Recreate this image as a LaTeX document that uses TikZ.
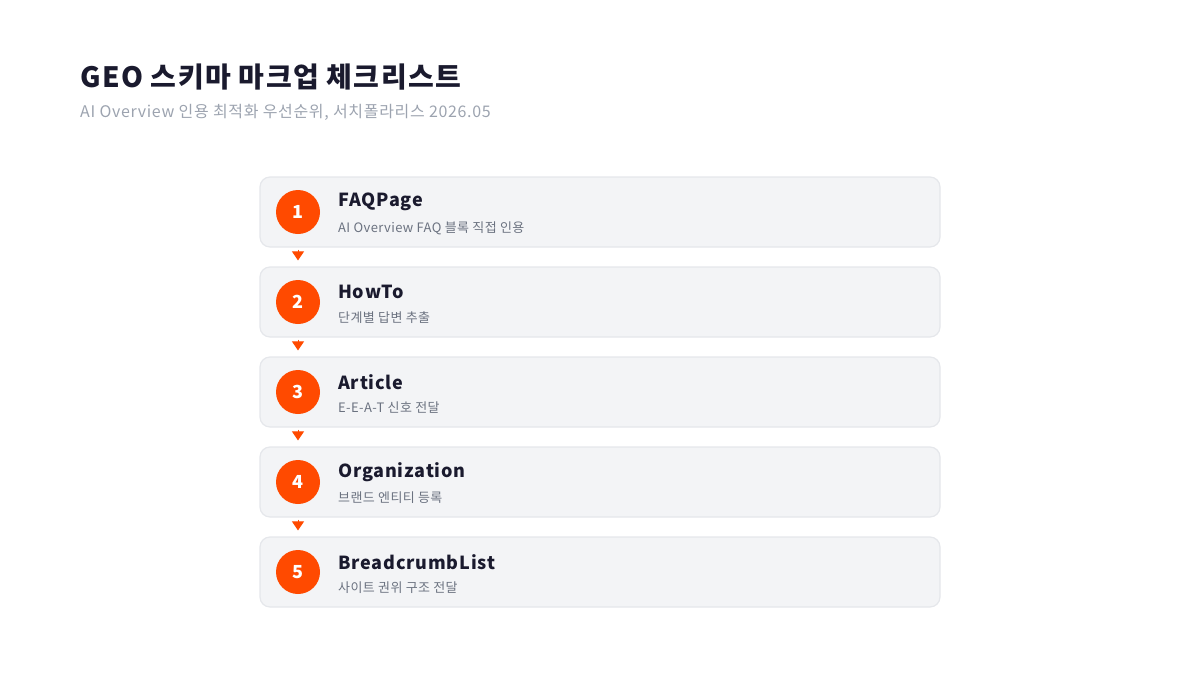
\documentclass[tikz,border=0pt]{standalone}
\usepackage{fontspec}
\setmainfont{Noto Sans CJK KR}
\usetikzlibrary{arrows.meta}
\definecolor{accent}{HTML}{FF4A00}
\definecolor{boxfill}{HTML}{F3F4F6}
\definecolor{boxline}{HTML}{E5E7EB}
\definecolor{ink}{HTML}{1A1A2E}
\definecolor{muted}{HTML}{9CA3AF}
\definecolor{subink}{HTML}{6B7280}
\tikzset{
  card/.style={draw=boxline, line width=1.2pt, fill=boxfill, rounded corners=10pt, minimum width=680pt, minimum height=70pt, inner sep=0pt},
  badge/.style={circle, fill=accent, minimum size=44pt, inner sep=0pt, text=white, font=\fontsize{18}{20}\selectfont\bfseries},
  itemtitle/.style={anchor=west, inner sep=0pt, text=ink, font=\fontsize{18}{20}\selectfont\bfseries\addfontfeature{LetterSpace=4.5}},
  itemsub/.style={anchor=west, inner sep=0pt, text=subink, font=\fontsize{13}{15}\selectfont\addfontfeature{LetterSpace=3}},
  flow/.style={draw=accent, line width=1pt, -{Triangle[width=12pt,length=9pt]}, shorten >=6pt, shorten <=2pt}
}
\begin{document}
\begin{tikzpicture}[x=1pt,y=-1pt]
\useasboundingbox (0,0) rectangle (1200,675);
\node[anchor=west, inner sep=0pt, text=ink, font=\fontsize{28}{30}\selectfont\bfseries\addfontfeature{LetterSpace=5}] (title) at (80,77) {GEO 스키마 마크업 체크리스트};
\node[anchor=west, inner sep=0pt, text=muted, font=\fontsize{16}{18}\selectfont\addfontfeature{LetterSpace=4.2}] (subtitle) at (80,112) {AI Overview 인용 최적화 우선순위, 서치폴라리스 2026.05};
\foreach \i/\t/\s in {1/FAQPage/AI Overview FAQ 블록 직접 인용, 2/HowTo/단계별 답변 추출, 3/Article/E-E-A-T 신호 전달, 4/Organization/브랜드 엔티티 등록, 5/BreadcrumbList/사이트 권위 구조 전달}{
  \pgfmathsetmacro{\yc}{212+90*(\i-1)}
  \node[card] (b\i) at (600,\yc) {};
  \node[badge] (c\i) at (298,\yc) {\i};
  \node[itemtitle] (t\i) at (338,\yc-10) {\t};
  \node[itemsub] (s\i) at (338,\yc+16) {\s};
}
\foreach \i [evaluate=\i as \j using int(\i+1)] in {1,2,3,4}{
  \draw[flow] (b\i.south -| c\i) -- (b\j.north -| c\j);
}
\end{tikzpicture}
\end{document}
